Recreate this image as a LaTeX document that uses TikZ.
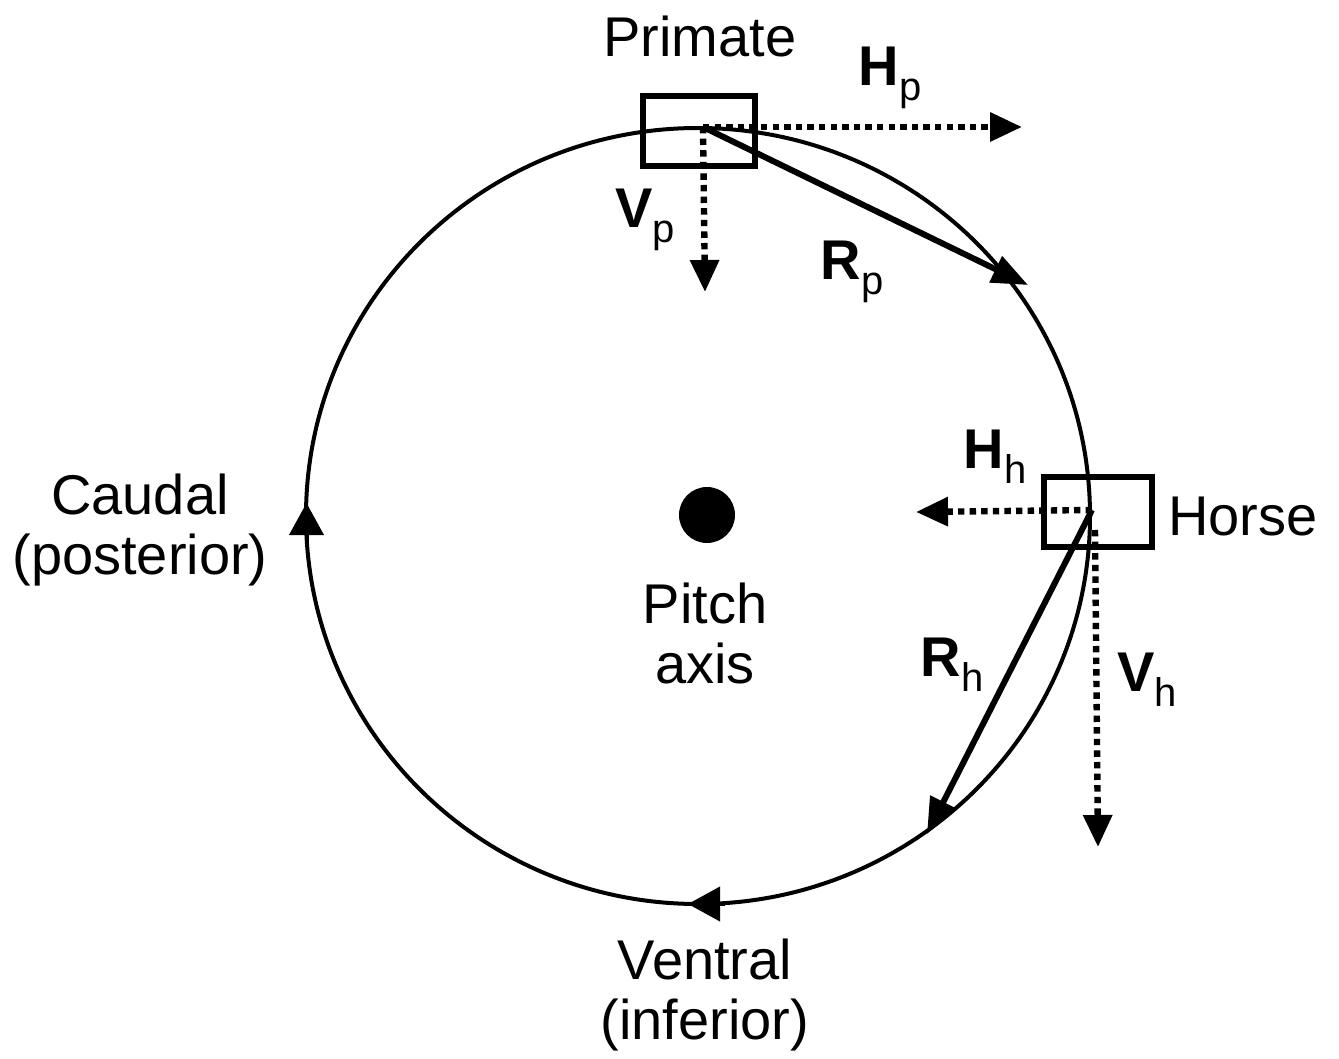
\documentclass[tikz,border=0pt]{standalone}
\usepackage{fontspec}
\setmainfont{Liberation Sans}
\usetikzlibrary{arrows.meta}
\begin{document}
\begin{tikzpicture}[x=0.5pt,y=-0.5pt,
  font=\fontsize{28}{30}\selectfont,
  lbl/.style={inner sep=0pt, align=center},
  vec/.style={line width=3pt, -{Triangle[length=18pt,width=14pt]}},
  dotvec/.style={line width=3.2pt, dash pattern=on 3.2pt off 2.6pt, -{Triangle[length=16pt,width=14pt]}},
  circtip/.style={line width=2pt, -{Triangle[length=16pt,width=17pt]}},
  boxsty/.style={draw, line width=3pt, inner sep=0pt, fill=none}
]
\useasboundingbox (0,0) rectangle (1339,1059);
% orbit
\draw[line width=2pt] (698,516) ellipse [x radius=196pt, y radius=194pt];
% direction tips on orbit
\coordinate (lt0) at (306.5,545);
\coordinate (lt1) at (306.5,503);
\coordinate (bt0) at (725,904);
\coordinate (bt1) at (688,904);
\draw[circtip] (lt0) -- (lt1);
\draw[circtip] (bt0) -- (bt1);
% pitch axis
\node[circle, fill=black, minimum size=28pt, inner sep=0pt] (dot) at (707,515) {};
\node[lbl] (pitch) at (705,633) {Pitch\\axis};
% primate
\node[boxsty, minimum width=56pt, minimum height=35pt] (pbox) at (699,131) {};
\coordinate (pc) at (703,127);
\coordinate (hpend) at (1022,127);
\coordinate (vpend) at (705,292);
\coordinate (rpend) at (1028,285);
\draw[dotvec] (pc) -- (hpend);
\draw[dotvec] (pc) -- (vpend);
\draw[vec] (pc) -- (rpend);
\node[lbl] (primate) at (700,36) {Primate};
\node[lbl] (hp) at (890,78) {\textbf{H}\raisebox{-0.5ex}{\fontsize{20}{20}\selectfont p}};
\node[lbl] (vp) at (645,220) {\textbf{V}\raisebox{-0.5ex}{\fontsize{20}{20}\selectfont p}};
\node[lbl] (rp) at (852,272) {\textbf{R}\raisebox{-0.5ex}{\fontsize{20}{20}\selectfont p}};
% horse
\node[boxsty, minimum width=54pt, minimum height=35pt] (hbox) at (1098,512) {};
\coordinate (hc) at (1092,510);
\coordinate (hhend) at (916,512);
\coordinate (vhstart) at (1095,530);
\coordinate (vhend) at (1098,847);
\coordinate (rhend) at (927,834);
\draw[dotvec] (hc) -- (hhend);
\draw[dotvec] (vhstart) -- (vhend);
\draw[vec] (hc) -- (rhend);
\node[lbl] (horse) at (1243,517) {Horse};
\node[lbl] (hh) at (995,457) {\textbf{H}\raisebox{-0.5ex}{\fontsize{20}{20}\selectfont h}};
\node[lbl] (rh) at (952,665) {\textbf{R}\raisebox{-0.5ex}{\fontsize{20}{20}\selectfont h}};
\node[lbl] (vh) at (1147,680) {\textbf{V}\raisebox{-0.5ex}{\fontsize{20}{20}\selectfont h}};
% other labels
\node[lbl] (caudal) at (140,530) {Caudal\\(posterior)};
\node[lbl] (ventral) at (705,995) {Ventral\\(inferior)};
\end{tikzpicture}
\end{document}
